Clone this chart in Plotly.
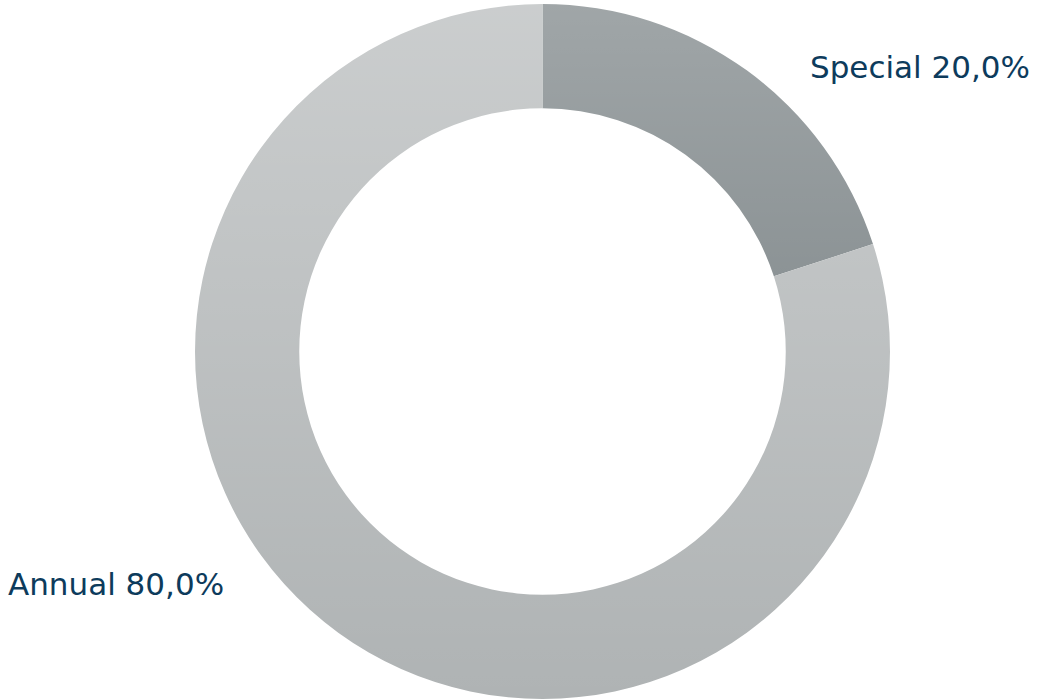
import base64
import plotly.graph_objects as go

# data
labels = ["Special", "Annual"]
values = [20, 80]
colors = ["#6d7679", "#afb3b4"]   # base tones (lightened toward the top by overlay)

# label placement (paper coords, anchor)
label_pos = {
    "Special": (0.994, 0.909, "right"),
    "Annual": (-0.041, 0.165, "left"),
}

total = sum(values)

fig = go.Figure(
    go.Pie(
        labels=labels,
        values=values,
        hole=0.70,
        sort=False,
        direction="clockwise",
        rotation=0,
        marker=dict(colors=colors, line=dict(width=0)),
        textinfo="none",
        hoverinfo="label+percent",
        showlegend=False,
    )
)

# vertical white fade over the ring -> soft top-to-bottom gradient
svg = (
    '<svg xmlns="http://www.w3.org/2000/svg" width="10" height="100" preserveAspectRatio="none">'
    '<defs><linearGradient id="g" x1="0" y1="0" x2="0" y2="1">'
    '<stop offset="0" stop-color="#ffffff" stop-opacity="0.35"/>'
    '<stop offset="1" stop-color="#ffffff" stop-opacity="0"/>'
    '</linearGradient></defs>'
    '<rect width="10" height="100" fill="url(#g)"/></svg>'
)
src = "data:image/svg+xml;base64," + base64.b64encode(svg.encode()).decode()
fig.add_layout_image(
    source=src, xref="paper", yref="paper", x=0, y=1,
    sizex=1, sizey=1, sizing="stretch", layer="above",
    xanchor="left", yanchor="top",
)

for lab, val in zip(labels, values):
    x, y, anchor = label_pos[lab]
    txt = f"{lab} {100 * val / total:.1f}%".replace(".", ",")
    fig.add_annotation(
        x=x, y=y, xref="paper", yref="paper", text=txt, showarrow=False,
        xanchor=anchor, yanchor="middle",
        font=dict(family="DejaVu Sans", size=31, color="#0d3b5c"),
    )

fig.update_layout(
    width=1038,
    height=699,
    paper_bgcolor="white",
    plot_bgcolor="white",
    margin=dict(t=4, b=0, l=47, r=0),
)

# drop the default 8px page margin so the chart sits flush with the window
fig.write_html(
    "out.html",
    config={"displayModeBar": False},
    post_script="document.body.style.margin='0';",
)
